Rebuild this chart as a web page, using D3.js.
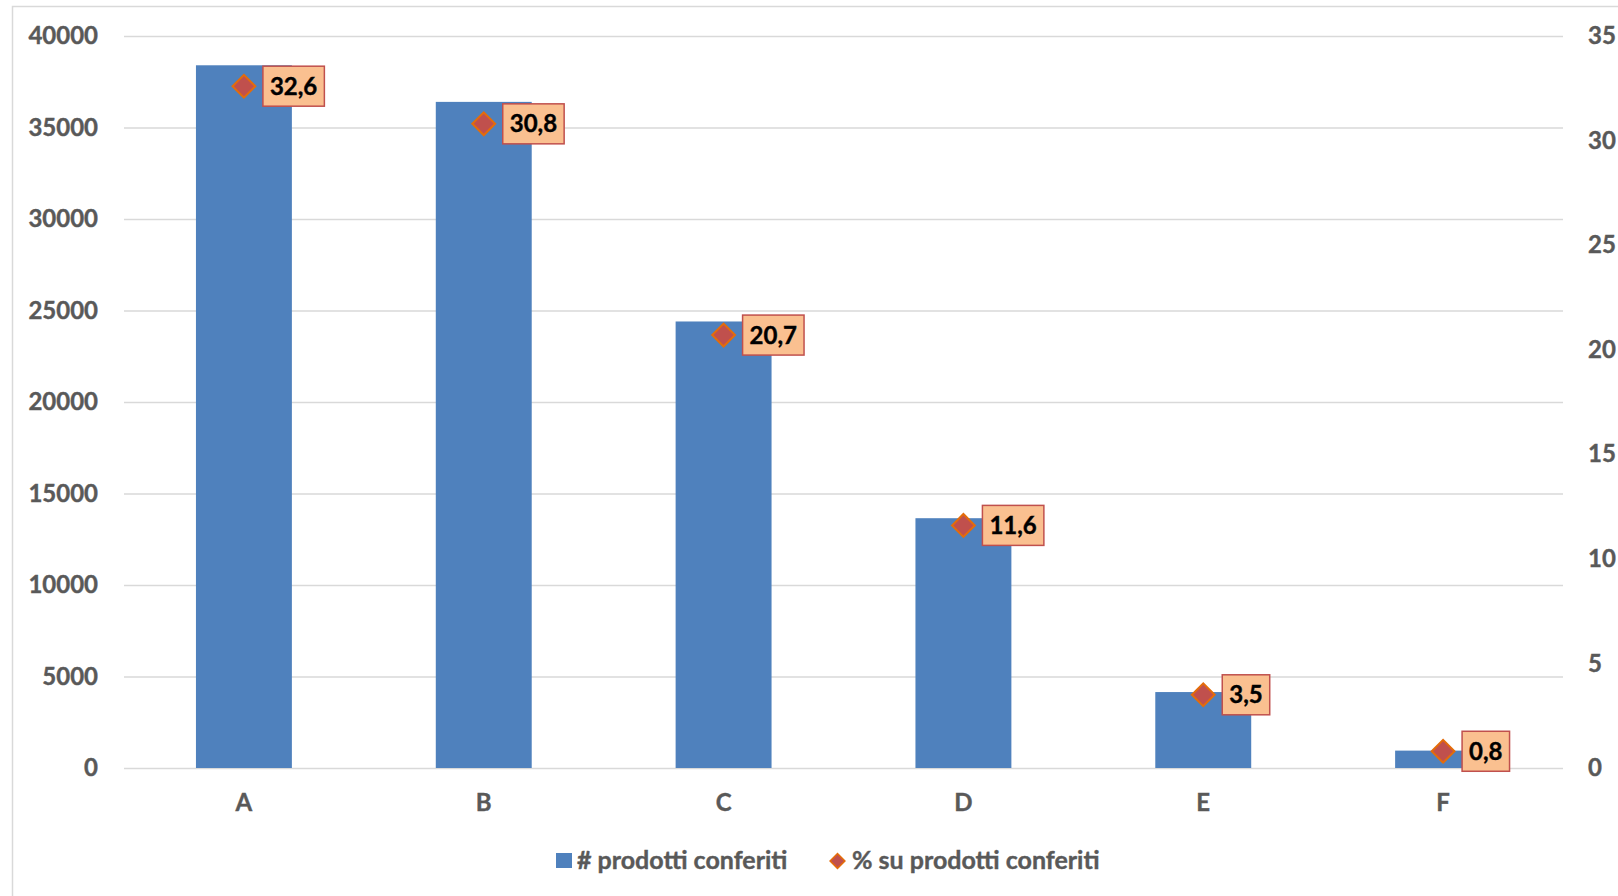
<!DOCTYPE html>
<html><head><meta charset="utf-8">
<script src="https://cdn.jsdelivr.net/npm/d3@7"></script>
<style>body{margin:0;background:#fff;}svg{display:block;}</style>
</head><body>
<script>
const categories = ["A","B","C","D","E","F"];
const prodotti = [38400, 36400, 24400, 13650, 4150, 950];
const percentuali = [32.6, 30.8, 20.7, 11.6, 3.5, 0.8];
const percLabels = ["32,6","30,8","20,7","11,6","3,5","0,8"];
const leftTicks = [0,5000,10000,15000,20000,25000,30000,35000,40000];
const rightTicks = [0,5,10,15,20,25,30,35];
const legendLabels = ["# prodotti conferiti","% su prodotti conferiti"];

(function(){
const W=1618,H=896;
const svg=d3.select("body").append("svg").attr("width",W).attr("height",H);
const font="Lato, 'Open Sans', sans-serif";
svg.append("rect").attr("x",12.5).attr("y",6.5).attr("width",1700).attr("height",1000)
  .attr("fill","#fff").attr("stroke","#d9d9d9").attr("stroke-width",1.5);

const pL=124,pR=1563,pT=36,pB=768;
const x=d3.scaleBand().domain(categories).range([pL,pR]).paddingInner(0.6).paddingOuter(0.3);
const y=d3.scaleLinear().domain([0,40000]).range([pB,pT]);
const y2=d3.scaleLinear().domain([0,35]).range([pB,pT]);

const styleText=sel=>sel.attr("font-family",font).attr("font-weight","bold").attr("font-size",24)
  .attr("fill","#595959").attr("stroke","#595959").attr("stroke-width",0.4);

// gridlines
svg.append("g").selectAll("line").data(leftTicks).join("line")
  .attr("x1",pL).attr("x2",pR).attr("y1",d=>y(d)+0.5).attr("y2",d=>y(d)+0.5)
  .attr("stroke","#d9d9d9").attr("stroke-width",1.5);

// left axis
const ga=svg.append("g").attr("transform",`translate(98,0)`)
  .call(d3.axisLeft(y).tickValues(leftTicks).tickSize(0).tickPadding(0).tickFormat(d=>String(d)));
ga.select(".domain").remove();
styleText(ga.selectAll("text"));

// right axis
const gr=svg.append("g").attr("transform",`translate(1588,0)`)
  .call(d3.axisRight(y2).tickValues(rightTicks).tickSize(0).tickPadding(0).tickFormat(d=>String(d)));
gr.select(".domain").remove();
styleText(gr.selectAll("text"));

// x axis
const gx=svg.append("g").attr("transform",`translate(0,${pB})`)
  .call(d3.axisBottom(x).tickSize(0).tickPadding(26));
gx.select(".domain").remove();
styleText(gx.selectAll("text"));

// bars
svg.append("g").selectAll("rect").data(categories).join("rect")
  .attr("x",d=>x(d)).attr("width",x.bandwidth())
  .attr("y",(d,i)=>y(prodotti[i])).attr("height",(d,i)=>pB-y(prodotti[i]))
  .attr("fill","#4F81BD");

// markers
const cx=d=>x(d)+x.bandwidth()/2;
const diamond=d3.symbol().type(d3.symbolSquare).size(260);
svg.append("g").selectAll("path").data(categories).join("path")
  .attr("d",diamond())
  .attr("transform",(d,i)=>`translate(${cx(d)},${y2(percentuali[i])}) rotate(45)`)
  .attr("fill","#C0504D").attr("stroke","#E46C0A").attr("stroke-width",2);

// labels
const lg=svg.append("g");
categories.forEach((c,i)=>{
  const px=cx(c), py=y2(percentuali[i]);
  const t=lg.append("text").attr("x",px+26).attr("y",py).attr("dy","0.36em")
    .attr("font-family",font).attr("font-weight","bold").attr("font-size",24).attr("fill","#000")
    .attr("stroke","#000").attr("stroke-width",0.4)
    .text(percLabels[i]);
  const bb=t.node().getBBox();
  lg.insert("rect","text").attr("x",px+19).attr("y",py-20).attr("width",bb.width+14).attr("height",40)
    .attr("fill","#FAC090").attr("stroke","#C0504D").attr("stroke-width",1.5);
});

// legend
const leg=svg.append("g");
leg.append("rect").attr("x",556).attr("y",853).attr("width",16).attr("height",15).attr("fill","#4F81BD");
const l1=leg.append("text").attr("x",577).attr("y",860).attr("dy","0.36em").text(legendLabels[0]);
styleText(l1); l1.attr("font-size",25);
leg.append("path").attr("d",d3.symbol().type(d3.symbolSquare).size(110)()).attr("transform","translate(837.5,861) rotate(45)")
  .attr("fill","#C0504D").attr("stroke","#E46C0A").attr("stroke-width",1.5);
const l2=leg.append("text").attr("x",852).attr("y",860).attr("dy","0.36em").text(legendLabels[1]);
styleText(l2); l2.attr("font-size",25);
})();
</script>
</body></html>
